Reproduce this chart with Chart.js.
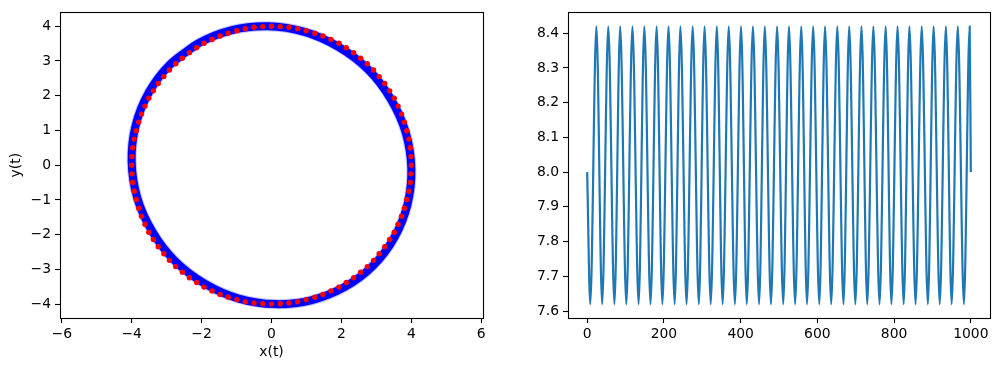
<!DOCTYPE html>
<html>
<head>
<meta charset="utf-8">
<script src="https://cdn.jsdelivr.net/npm/chart.js@4.4.1/dist/chart.umd.min.js"></script>
<style>
  html, body { margin: 0; padding: 0; background: #fff; }
  #wrap { position: relative; width: 999px; height: 371px; }
  canvas { position: absolute; top: 0; }
  #orbit { left: 0; }
  #energy { left: 500px; }
</style>
</head>
<body>
<div id="wrap">
  <canvas id="orbit" width="500" height="371"></canvas>
  <canvas id="energy" width="499" height="371"></canvas>
</div>
<script>
// exact solution, red dots on the circle r = 4
const exactX = [
  4.00, 3.99, 3.97, 3.93, 3.87, 3.80, 3.72, 3.62, 3.51, 3.38, 3.24, 3.08, 2.92, 2.74, 2.55, 2.35, 2.14, 1.93, 1.70, 1.47, 1.24, 0.99, 0.75, 0.50, 0.25, 0.00,
  -0.25, -0.50, -0.75, -0.99, -1.24, -1.47, -1.70, -1.93, -2.14, -2.35, -2.55, -2.74, -2.92, -3.08, -3.24, -3.38, -3.51, -3.62, -3.72, -3.80, -3.87, -3.93, -3.97, -3.99, -4.00,
  -3.99, -3.97, -3.93, -3.87, -3.80, -3.72, -3.62, -3.51, -3.38, -3.24, -3.08, -2.92, -2.74, -2.55, -2.35, -2.14, -1.93, -1.70, -1.47, -1.24, -0.99, -0.75, -0.50, -0.25, 0.00,
  0.25, 0.50, 0.75, 0.99, 1.24, 1.47, 1.70, 1.93, 2.14, 2.35, 2.55, 2.74, 2.92, 3.08, 3.24, 3.38, 3.51, 3.62, 3.72, 3.80, 3.87, 3.93, 3.97, 3.99
];
const exactY = [
  0.00, 0.25, 0.50, 0.75, 0.99, 1.24, 1.47, 1.70, 1.93, 2.14, 2.35, 2.55, 2.74, 2.92, 3.08, 3.24, 3.38, 3.51, 3.62, 3.72, 3.80, 3.87, 3.93, 3.97, 3.99, 4.00,
  3.99, 3.97, 3.93, 3.87, 3.80, 3.72, 3.62, 3.51, 3.38, 3.24, 3.08, 2.92, 2.74, 2.55, 2.35, 2.14, 1.93, 1.70, 1.47, 1.24, 0.99, 0.75, 0.50, 0.25, 0.00,
  -0.25, -0.50, -0.75, -0.99, -1.24, -1.47, -1.70, -1.93, -2.14, -2.35, -2.55, -2.74, -2.92, -3.08, -3.24, -3.38, -3.51, -3.62, -3.72, -3.80, -3.87, -3.93, -3.97, -3.99, -4.00,
  -3.99, -3.97, -3.93, -3.87, -3.80, -3.72, -3.62, -3.51, -3.38, -3.24, -3.08, -2.92, -2.74, -2.55, -2.35, -2.14, -1.93, -1.70, -1.47, -1.24, -0.99, -0.75, -0.50, -0.25
];

// numerical orbit (blue), a slightly tilted ellipse; first two points repeated to close it
const orbitX = [
  -2.90, -2.09, -1.13, -0.10, 0.94, 1.91, 2.76, 3.41, 3.84, 4.00, 3.89, 3.51,
  2.90, 2.09, 1.13, 0.10, -0.94, -1.91, -2.76, -3.41, -3.84, -4.00, -3.89, -3.51,
  -2.90, -2.09
];
const orbitY = [
  2.90, 3.51, 3.89, 4.00, 3.84, 3.41, 2.76, 1.91, 0.94, -0.10, -1.13, -2.09,
  -2.90, -3.51, -3.89, -4.00, -3.84, -3.41, -2.76, -1.91, -0.94, 0.10, 1.13, 2.09,
  2.90, 3.51
];

// right panel: start, turning points (trough/peak alternating), end
const energyX = [
  0,
  8, 24, 39, 55, 71, 86, 102, 118, 134, 149, 165, 181, 196, 212, 228, 243,
  259, 275, 291, 306, 322, 338, 353, 369, 385, 401, 416, 432, 448, 463, 479, 495,
  511, 526, 542, 558, 573, 589, 605, 620, 636, 652, 668, 683, 699, 715, 730, 746,
  762, 778, 793, 809, 825, 840, 856, 872, 888, 903, 919, 935, 950, 966, 982, 997,
  1000
];
const energyY = [
  8.00,
  7.62, 8.42, 7.62, 8.42, 7.62, 8.42, 7.62, 8.42, 7.62, 8.42, 7.62, 8.42, 7.62, 8.42, 7.62, 8.42,
  7.62, 8.42, 7.62, 8.42, 7.62, 8.42, 7.62, 8.42, 7.62, 8.42, 7.62, 8.42, 7.62, 8.42, 7.62, 8.42,
  7.62, 8.42, 7.62, 8.42, 7.62, 8.42, 7.62, 8.42, 7.62, 8.42, 7.62, 8.42, 7.62, 8.42, 7.62, 8.42,
  7.62, 8.42, 7.62, 8.42, 7.62, 8.42, 7.62, 8.42, 7.62, 8.42, 7.62, 8.42, 7.62, 8.42, 7.62, 8.42,
  8.00
];

const orbitTicksX = [-6, -4, -2, 0, 2, 4, 6];
const orbitTicksY = [-4, -3, -2, -1, 0, 1, 2, 3, 4];
const energyTicksX = [0, 200, 400, 600, 800, 1000];
const energyTicksY = [7.6, 7.7, 7.8, 7.9, 8.0, 8.1, 8.2, 8.3, 8.4];

const FONT = "DejaVu Sans";
const tickFont = { family: FONT, size: 13.9 };
const minus = v => String(v).replace("-", "\u2212");

// matplotlib style box around the plot area
const frame = {
  id: "frame",
  afterDatasetsDraw(chart) {
    const { ctx, chartArea: a } = chart;
    ctx.save();
    ctx.strokeStyle = "#000";
    ctx.lineWidth = 1.1;
    ctx.strokeRect(Math.round(a.left) + 0.5, Math.round(a.top) + 0.5,
      Math.round(a.right - a.left), Math.round(a.bottom - a.top));
    ctx.restore();
  }
};

function axis(min, max, ticks, fmt, fitSize, isX, title) {
  const cfg = {
    type: "linear",
    min: min,
    max: max,
    afterBuildTicks: s => { s.ticks = ticks.map(v => ({ value: v })); },
    afterFit: s => { if (isX) s.height = fitSize; else s.width = fitSize; },
    grid: { drawOnChartArea: false, drawTicks: true, tickLength: 5, tickColor: "#000", tickWidth: 1.1 },
    border: { display: false },
    ticks: { color: "#000", font: tickFont, padding: isX ? 3 : 4, callback: fmt, maxRotation: 0, autoSkip: false }
  };
  if (title) {
    cfg.title = {
      display: true, text: title, color: "#000", font: tickFont,
      padding: isX ? { top: 0, bottom: 10 } : { top: 8, bottom: 0 }
    };
  }
  return cfg;
}

function pairs(xs, ys) {
  return xs.map((x, i) => ({ x: x, y: ys[i] }));
}

const common = {
  responsive: false,
  animation: false,
  events: [],
  plugins: { legend: { display: false }, tooltip: { enabled: false } }
};

new Chart(document.getElementById("orbit"), {
  type: "scatter",
  data: {
    datasets: [
      {
        data: pairs(exactX, exactY),
        showLine: false,
        pointRadius: 2.7,
        pointBackgroundColor: "#ff0000",
        pointBorderWidth: 0
      },
      {
        data: pairs(orbitX, orbitY),
        showLine: true,
        borderColor: "#0000ff",
        borderWidth: 8,
        borderJoinStyle: "round",
        tension: 0.34,
        pointRadius: 0
      },
      {
        data: pairs(orbitX, orbitY),
        showLine: true,
        borderColor: "rgba(0, 0, 255, 0.25)",
        borderWidth: 10,
        borderJoinStyle: "round",
        tension: 0.34,
        pointRadius: 0
      }
    ]
  },
  options: Object.assign({}, common, {
    layout: { autoPadding: false, padding: { left: 0, top: 10, right: 17, bottom: 0 } },
    scales: {
      x: axis(-6.05, 6.05, orbitTicksX, minus, 53, true, "x(t)"),
      y: axis(-4.4, 4.4, orbitTicksY, minus, 60, false, "y(t)")
    }
  }),
  plugins: [frame]
});

new Chart(document.getElementById("energy"), {
  type: "scatter",
  data: {
    datasets: [{
      data: pairs(energyX, energyY),
      showLine: true,
      borderColor: "#1f77b4",
      borderWidth: 2.2,
      cubicInterpolationMode: "monotone",
      tension: 0.4,
      pointRadius: 0
    }]
  },
  options: Object.assign({}, common, {
    layout: { autoPadding: false, padding: { left: 0, top: 10, right: 9, bottom: 0 } },
    scales: {
      x: axis(-50, 1050, energyTicksX, v => String(v), 53, true, null),
      y: axis(7.58, 8.46, energyTicksY, v => v.toFixed(1), 68, false, null)
    }
  }),
  plugins: [frame]
});
</script>
</body>
</html>
